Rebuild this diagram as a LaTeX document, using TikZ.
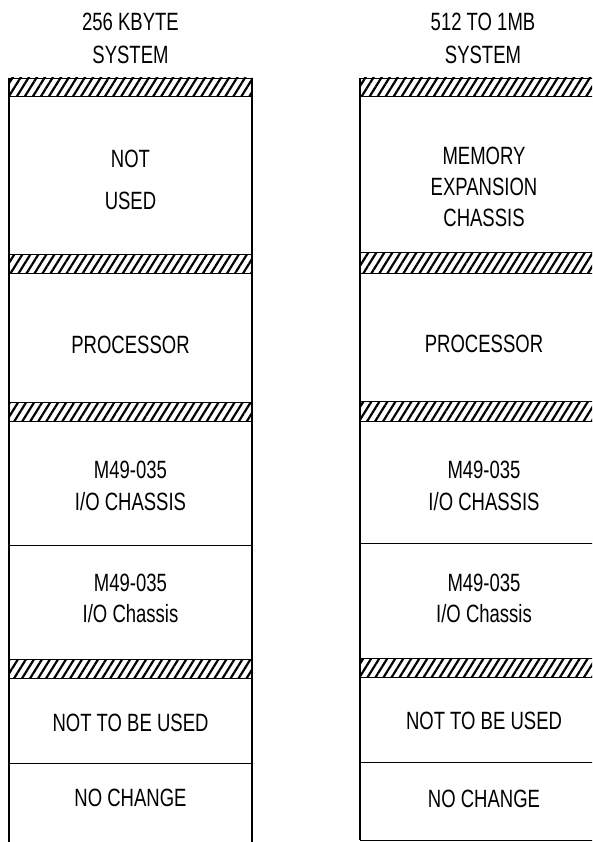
\documentclass[tikz,border=0pt]{standalone}
\usepackage{fontspec}
\setmainfont[FakeStretch=0.74]{Liberation Sans}
\usetikzlibrary{patterns.meta}
\tikzset{
  txt/.style={align=center,inner sep=0pt,font=\fontsize{25}{31}\selectfont},
  hatchbar/.style={draw,line width=0.9pt,pattern={Lines[angle=58,distance=6.8pt,line width=2.2pt]}},
  wall/.style={line width=1.4pt},
  divider/.style={line width=1pt}
}
\begin{document}
\begin{tikzpicture}[x=1pt,y=-1pt]
  \useasboundingbox (0,0) rectangle (592,842);
  \clip (0,0) rectangle (592,842);
  % 256 KBYTE column
  \coordinate (LT) at (9,78);
  \coordinate (RT) at (252,78);
  \foreach \ya/\yb in {78/96,254/273,402/421,659/678}
    \draw[hatchbar] (9,\ya) rectangle (252,\yb);
  \draw[divider] (9,545) -- (252,545);
  \draw[divider] (9,763) -- (252,763);
  \draw[wall] (LT) -- (9,842);
  \draw[wall] (RT) -- (252,842);
  \node[txt] (ltitle) at (130.5,38.5) {256 KBYTE\\[2pt]SYSTEM};
  \node[txt] (lnotused) at (130.5,180) {NOT\\[11pt]USED};
  \node[txt] (lproc) at (130.5,345) {PROCESSOR};
  \node[txt] (lioa) at (130.5,486) {M49-035\\[1pt]I/O CHASSIS};
  \node[txt] (liob) at (130.5,598) {M49-035\\I/O Chassis};
  \node[txt] (lnotbe) at (130.5,723) {NOT TO BE USED};
  \node[txt] (lnochange) at (130.5,798) {NO CHANGE};
  % 512 TO 1MB column
  \coordinate (ML) at (360,78);
  \foreach \ya/\yb in {78/96,252/273,401/421,658/677}
    \draw[hatchbar] (360,\ya) rectangle (608,\yb);
  \draw[divider] (360,543) -- (608,543);
  \draw[divider] (360,762) -- (608,762);
  \draw[divider] (360,840) -- (608,840);
  \draw[wall] (ML) -- (360,840);
  \node[txt] (rtitle) at (483,38.5) {512 TO 1MB\\[2pt]SYSTEM};
  \node[txt] (rmem) at (484,187) {MEMORY\\EXPANSION\\CHASSIS};
  \node[txt] (rproc) at (484,344) {PROCESSOR};
  \node[txt] (rioa) at (484,486) {M49-035\\[1pt]I/O CHASSIS};
  \node[txt] (riob) at (484,598) {M49-035\\I/O Chassis};
  \node[txt] (rnotbe) at (484,721) {NOT TO BE USED};
  \node[txt] (rnochange) at (484,799) {NO CHANGE};
\end{tikzpicture}
\end{document}
